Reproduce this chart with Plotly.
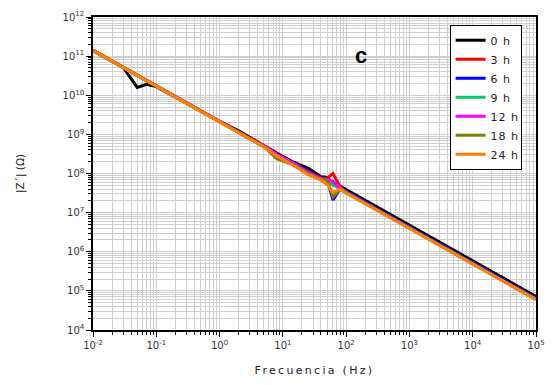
import plotly.graph_objects as go

# Frequency (Hz)
freq = [0.01, 0.02, 0.03, 0.05, 0.07, 0.1, 0.3, 1, 2, 3, 5, 8, 15, 25, 40, 50, 62, 80, 100, 1000, 10000, 100000]

# |Z'| (Ohm) per immersion time
z_0h = [1.40e11, 7.43e10, 5.14e10, 1.58e10, 1.91e10, 1.66e10, 6.31e9, 2.14e9, 1.23e9, 8.32e8, 5.25e8, 3.31e8, 1.91e8, 1.38e8, 8.32e7, 7.94e7, 5.62e7, 4.79e7, 3.89e7, 4.79e6, 5.89e5, 7.24e4]
z_3h = [1.40e11, 7.43e10, 5.14e10, 3.24e10, 2.38e10, 1.72e10, 6.34e9, 2.12e9, 1.15e9, 8.0e8, 5.0e8, 3.1e8, 1.8e8, 1.15e8, 7.6e7, 7.6e7, 1.0e8, 4.6e7, 3.4e7, 4.1e6, 5.0e5, 6.1e4]
z_6h = [1.40e11, 7.43e10, 5.14e10, 3.24e10, 2.38e10, 1.72e10, 6.34e9, 2.12e9, 1.15e9, 7.9e8, 5.0e8, 3.15e8, 1.82e8, 1.1e8, 7.4e7, 7.2e7, 2.1e7, 4.1e7, 3.5e7, 4.3e6, 5.3e5, 6.5e4]
z_9h = [1.40e11, 7.43e10, 5.14e10, 3.24e10, 2.38e10, 1.72e10, 6.34e9, 2.12e9, 1.13e9, 7.8e8, 4.9e8, 3.0e8, 1.75e8, 1.05e8, 7.2e7, 7.0e7, 5.0e7, 4.2e7, 3.3e7, 4.05e6, 4.95e5, 6.1e4]
z_12h = [1.40e11, 7.43e10, 5.14e10, 3.24e10, 2.38e10, 1.72e10, 6.34e9, 2.12e9, 1.14e9, 7.9e8, 5.2e8, 3.1e8, 1.8e8, 1.08e8, 7.3e7, 7.0e7, 6.3e7, 4.3e7, 3.3e7, 4.05e6, 4.95e5, 6.1e4]
z_18h = [1.40e11, 7.43e10, 5.14e10, 3.24e10, 2.38e10, 1.72e10, 6.34e9, 2.12e9, 1.12e9, 7.7e8, 4.9e8, 2.4e8, 1.65e8, 1.0e8, 7.0e7, 6.8e7, 2.5e7, 4.0e7, 3.2e7, 4.0e6, 4.9e5, 6.0e4]
z_24h = [1.40e11, 7.43e10, 5.14e10, 3.24e10, 2.38e10, 1.72e10, 6.34e9, 2.12e9, 1.12e9, 7.59e8, 4.79e8, 2.82e8, 1.58e8, 9.33e7, 6.76e7, 5.25e7, 3.31e7, 3.98e7, 3.16e7, 3.98e6, 4.90e5, 6.03e4]

series_names = ["0 h", "3 h", "6 h", "9 h", "12 h", "18 h", "24 h"]
series_values = [z_0h, z_3h, z_6h, z_9h, z_12h, z_18h, z_24h]
colors = ["#000000", "#ff0000", "#0000ff", "#00c864", "#ff00ff", "#808000", "#ff8000"]

# Tick labels
x_exps = [-2, -1, 0, 1, 2, 3, 4, 5]
y_exps = [4, 5, 6, 7, 8, 9, 10, 11, 12]

x_tickvals = [10.0 ** e for e in x_exps]
x_ticktext = ["10<sup>%d</sup>" % e for e in x_exps]
y_tickvals = [10.0 ** e for e in y_exps]
y_ticktext = ["10<sup>%d</sup>" % e for e in y_exps]
x_minor = [k * 10.0 ** e for e in x_exps[:-1] for k in range(2, 10)]
y_minor = [k * 10.0 ** e for e in y_exps[:-1] for k in range(2, 10)]

fig = go.Figure()
for name, vals, col in zip(series_names, series_values, colors):
    fig.add_trace(go.Scatter(x=freq, y=vals, name=name, mode="lines",
                             line=dict(color=col, width=3)))

grid_col = "#cfcfcf"
tick_font = dict(family="DejaVu Sans", size=10, color="#333333")

fig.update_layout(
    width=555, height=385,
    margin=dict(l=93, r=10, t=13, b=54),
    paper_bgcolor="white", plot_bgcolor="white",
    font=dict(family="DejaVu Sans", color="#222222"),
    xaxis=dict(type="log", range=[-2, 5], tickmode="array", tickvals=x_tickvals, ticktext=x_ticktext,
               ticks="outside", ticklen=5, tickwidth=1.2, tickcolor="black",
               showline=True, linecolor="black", linewidth=1.5, mirror=True,
               showgrid=True, gridcolor=grid_col, gridwidth=1, zeroline=False,
               minor=dict(tickmode="array", tickvals=x_minor, ticks="outside", ticklen=3,
                          tickcolor="black", showgrid=True, gridcolor=grid_col, gridwidth=1),
               tickfont=tick_font,
               title=dict(text="Frecuencia (Hz)", font=dict(family="DejaVu Sans", size=11, color="#222222"), standoff=17)),
    yaxis=dict(type="log", range=[4, 12], tickmode="array", tickvals=y_tickvals, ticktext=y_ticktext,
               ticks="outside", ticklen=5, tickwidth=1.2, tickcolor="black",
               showline=True, linecolor="black", linewidth=1.5, mirror=True,
               showgrid=True, gridcolor=grid_col, gridwidth=1, zeroline=False,
               minor=dict(tickmode="array", tickvals=y_minor, ticks="outside", ticklen=3,
                          tickcolor="black", showgrid=True, gridcolor=grid_col, gridwidth=1),
               tickfont=tick_font,
               title=dict(text="|Z´| (Ω)", font=dict(family="DejaVu Sans", size=10.5, color="#222222"), standoff=36)),
    xaxis2=dict(type="log", range=[-2, 5], overlaying="x", side="top", tickmode="array", tickvals=x_tickvals,
                showticklabels=False, ticks="inside", ticklen=5, tickcolor="black", showgrid=False, zeroline=False,
                minor=dict(tickmode="array", tickvals=x_minor, ticks="inside", ticklen=3, tickcolor="black", showgrid=False)),
    yaxis2=dict(type="log", range=[4, 12], overlaying="y", side="right", tickmode="array", tickvals=y_tickvals,
                showticklabels=False, ticks="inside", ticklen=5, tickcolor="black", showgrid=False, zeroline=False,
                minor=dict(tickmode="array", tickvals=y_minor, ticks="inside", ticklen=3, tickcolor="black", showgrid=False)),
    legend=dict(x=0.805, y=0.975, xanchor="left", yanchor="top", bgcolor="white",
                bordercolor="black", borderwidth=1,
                font=dict(family="DejaVu Sans", size=11, color="#222222"),
                tracegroupgap=0, itemwidth=30),
    showlegend=True,
    annotations=[dict(text="<b>c</b>", x=0.606, y=0.878, xref="paper", yref="paper",
                      xanchor="center", yanchor="middle",
                      showarrow=False, font=dict(family="Liberation Sans", size=22, color="black"))],
)

post = (
    "document.body.style.margin='0px';"
    "document.body.style.overflow='hidden';"
    "var xt=document.querySelector('.xtitle'); if(xt){xt.style.letterSpacing='2.3px';}"
    "document.querySelectorAll('.legendtext').forEach(function(e){e.style.letterSpacing='1px';});"
)

fig.write_html("out.html", post_script=post, config={"displayModeBar": False})
